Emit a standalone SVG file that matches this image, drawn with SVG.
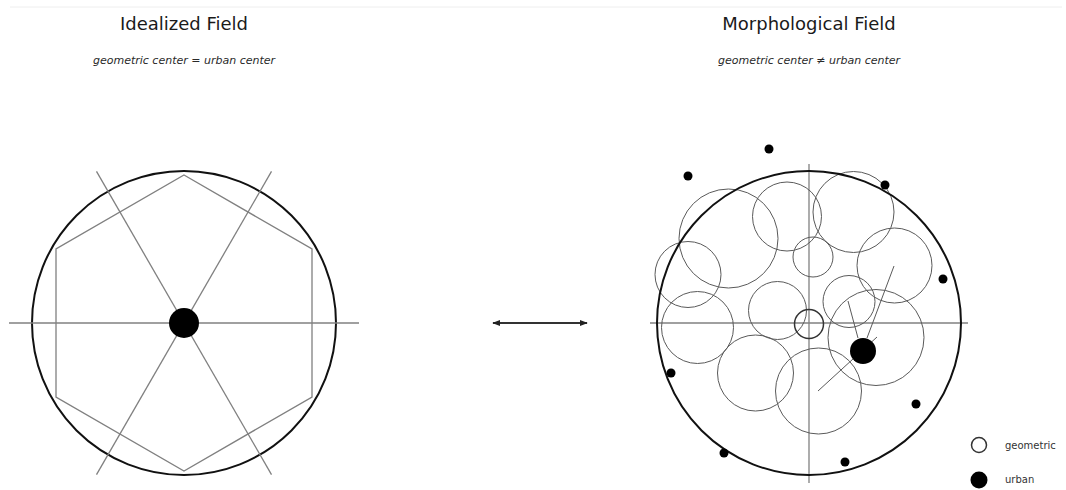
<svg xmlns="http://www.w3.org/2000/svg" width="1066" height="490" viewBox="0 0 1066 490">
<defs>
<style>
.title{font-family:"DejaVu Sans","Liberation Sans",sans-serif;font-size:18px;fill:#1a1a1a;text-anchor:middle}
.sub{font-family:"DejaVu Sans","Liberation Sans",sans-serif;font-size:11px;font-style:italic;fill:#2a2a2a;text-anchor:middle}
.leg{font-family:"DejaVu Sans","Liberation Sans",sans-serif;font-size:10px;fill:#333}
.guide{stroke:#808080;stroke-width:1.3;fill:none}
.boundary{stroke:#111;stroke-width:2;fill:none}
.cell{stroke:#5a5a5a;stroke-width:1;fill:none}
.dot{fill:#000}
</style>
<marker id="ah" viewBox="0 0 10 10" refX="9" refY="5" markerWidth="8" markerHeight="8" orient="auto-start-reverse" markerUnits="userSpaceOnUse">
<path d="M0,1 L10,5 L0,9 z" fill="#222"/>
</marker>
</defs>
<rect width="1066" height="490" fill="#fff"/>
<line x1="10" y1="7" x2="1062" y2="7" stroke="#eee" stroke-width="1"/>

<g id="idealized">
<text class="title" x="184" y="30">Idealized Field</text>
<text class="sub" x="184" y="64">geometric center = urban center</text>
<circle class="boundary" cx="184" cy="323" r="152"/>
<polygon class="guide" points="184,175 312,249 312,397 184,471 56,397 56,249"/>
<line class="guide" x1="9" y1="323" x2="359" y2="323"/>
<line class="guide" x1="96.5" y1="171.4" x2="271.5" y2="474.6"/>
<line class="guide" x1="271.5" y1="171.4" x2="96.5" y2="474.6"/>
<circle class="dot" cx="184" cy="323" r="15"/>
</g>

<g id="connectors">
<line x1="493" y1="323" x2="587" y2="323" stroke="#333" stroke-width="1.8" marker-start="url(#ah)" marker-end="url(#ah)"/>
</g>

<g id="morphological">
<text class="title" x="809" y="30">Morphological Field</text>
<text class="sub" x="809" y="64">geometric center ≠ urban center</text>
<line class="guide" x1="809" y1="164" x2="809" y2="483"/>
<line class="guide" x1="650" y1="323" x2="968" y2="323"/>
<circle class="cell" cx="728.5" cy="238.5" r="49.5"/>
<circle class="cell" cx="688" cy="274.5" r="33"/>
<circle class="cell" cx="787" cy="216.5" r="34.5"/>
<circle class="cell" cx="853.5" cy="212" r="40.5"/>
<circle class="cell" cx="813" cy="257" r="20"/>
<circle class="cell" cx="894.5" cy="265.5" r="37.5"/>
<circle class="cell" cx="849" cy="301.5" r="26"/>
<circle class="cell" cx="876" cy="337.5" r="48"/>
<circle class="cell" cx="697.5" cy="327.5" r="36"/>
<circle class="cell" cx="777.5" cy="310.5" r="29"/>
<circle class="cell" cx="755.5" cy="373" r="38"/>
<circle class="cell" cx="818.5" cy="391" r="43"/>
<circle class="boundary" cx="809" cy="323" r="152"/>
<line class="cell" x1="848" y1="301" x2="858" y2="338"/>
<line class="cell" x1="894" y1="266" x2="867" y2="338"/>
<line class="cell" x1="818" y1="391" x2="877" y2="337"/>
<circle cx="809" cy="324" r="14.5" fill="none" stroke="#333" stroke-width="1.5"/>
<circle class="dot" cx="863" cy="351" r="13"/>
<circle class="dot" cx="688" cy="176" r="4.5"/>
<circle class="dot" cx="769" cy="149" r="4.5"/>
<circle class="dot" cx="885" cy="185" r="4.5"/>
<circle class="dot" cx="943" cy="279" r="4.5"/>
<circle class="dot" cx="671" cy="373" r="4.5"/>
<circle class="dot" cx="916" cy="404" r="4.5"/>
<circle class="dot" cx="724" cy="453" r="4.5"/>
<circle class="dot" cx="845" cy="462" r="4.5"/>
</g>

<g id="legend">
<circle cx="979" cy="445" r="7.5" fill="none" stroke="#333" stroke-width="1.5"/>
<text class="leg" x="1005" y="449">geometric</text>
<circle class="dot" cx="979" cy="480" r="8.5"/>
<text class="leg" x="1005" y="483">urban</text>
</g>
</svg>
